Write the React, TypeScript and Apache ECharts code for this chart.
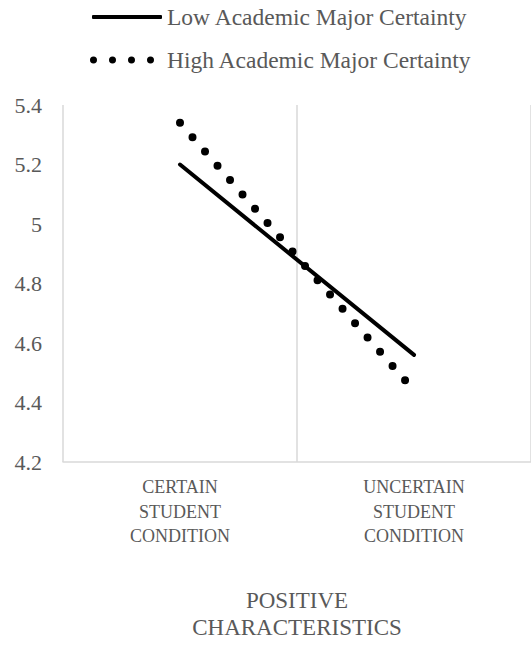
import React, { useEffect, useRef } from "react";
import * as echarts from "echarts";

const categories = ["CERTAIN\nSTUDENT\nCONDITION", "UNCERTAIN\nSTUDENT\nCONDITION"];
const seriesNames = ["Low Academic Major Certainty", "High Academic Major Certainty"];
const lowValues = [5.2, 4.56];
const highValues = [5.34, 4.44];
const yMin = 4.2;
const yMax = 5.4;
const yInterval = 0.2;
const axisName = "POSITIVE\nCHARACTERISTICS";

const FONT = "Liberation Serif";
const GREY = "#595959";

const dotsIcon =
  "path://" +
  [1, 6.43, 11.86, 17.29]
    .map((c) => `M${c - 1},1 A1,1 0 1,0 ${c + 1},1 A1,1 0 1,0 ${c - 1},1 Z`)
    .join(" ");

export default function App() {
  const ref = useRef<HTMLDivElement>(null);
  useEffect(() => {
    if (!ref.current) return;
    const chart = echarts.init(ref.current, null, { renderer: "svg" });
    chart.setOption({
      animation: false,
      backgroundColor: "#fff",
      textStyle: { fontFamily: FONT },
      legend: [
        {
          data: [{ name: seriesNames[0], icon: "roundRect" }],
          left: 92,
          top: 5,
          padding: 0,
          itemWidth: 70,
          itemHeight: 4,
          itemStyle: { color: "#000" },
          textStyle: { fontFamily: FONT, fontSize: 23.5, color: GREY },
          selectedMode: false,
        },
        {
          data: [{ name: seriesNames[1], icon: dotsIcon }],
          left: 90,
          top: 48,
          padding: 0,
          itemWidth: 64,
          itemHeight: 7,
          itemStyle: { color: "#000" },
          textStyle: { fontFamily: FONT, fontSize: 23.5, color: GREY, padding: [0, 0, 0, 8] },
          selectedMode: false,
        },
      ],
      grid: { left: 63, top: 105, width: 477, bottom: 179, containLabel: false },
      xAxis: {
        type: "category",
        data: categories,
        boundaryGap: true,
        axisLine: { show: true, lineStyle: { color: "#d9d9d9", width: 1.5 } },
        axisTick: { show: false },
        splitLine: { show: true, lineStyle: { color: "#d9d9d9", width: 1.5 } },
        axisLabel: {
          fontFamily: FONT,
          fontSize: 18,
          color: GREY,
          lineHeight: 24.5,
          margin: 13,
          interval: 0,
        },
        name: axisName,
        nameLocation: "middle",
        nameGap: 125,
        nameTextStyle: { fontFamily: FONT, fontSize: 23, color: GREY, lineHeight: 27 },
      },
      yAxis: {
        type: "value",
        min: yMin,
        max: yMax,
        interval: yInterval,
        axisLine: { show: false },
        axisTick: { show: false },
        splitLine: { show: false },
        axisLabel: {
          fontFamily: FONT,
          fontSize: 22,
          color: GREY,
          margin: 21,
          formatter: (v: number) => String(Math.round(v * 10) / 10),
        },
      },
      series: [
        {
          name: seriesNames[0],
          type: "line",
          data: lowValues,
          showSymbol: false,
          symbol: "none",
          color: "#000",
          lineStyle: { color: "#000", width: 4, cap: "round" },
        },
        {
          name: seriesNames[1],
          type: "line",
          data: highValues,
          showSymbol: false,
          symbol: "none",
          color: "#000",
          lineStyle: { color: "#000", width: 8, type: [0, 19], cap: "round" },
        },
      ],
    });
    return () => chart.dispose();
  }, []);
  return (
    <div
      ref={ref}
      style={{ position: "absolute", left: 0, top: 0, width: 531, height: 646 }}
    />
  );
}
